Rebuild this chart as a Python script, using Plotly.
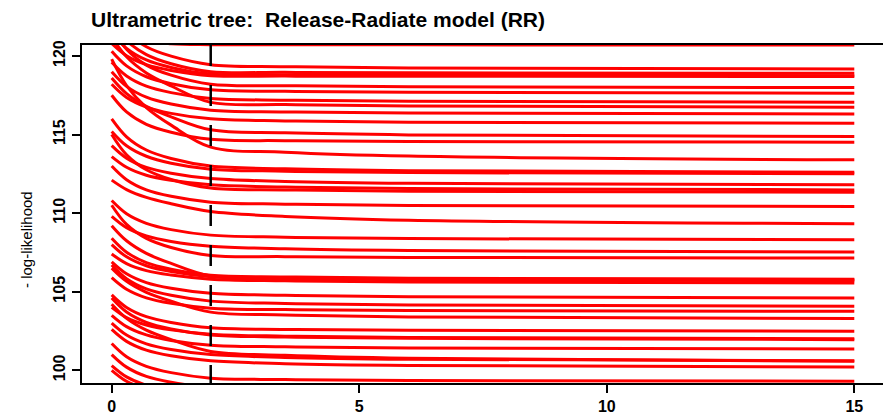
import plotly.graph_objects as go

# x positions (branch-length scaling parameter) at which each curve is sampled
x_grid = [0, 0.3, 0.7, 1.2, 2, 3.5, 6, 15]

# - log-likelihood curves, one list per simulated data set
nll_01 = [122.5, 121.6, 121.0, 120.78, 120.72, 120.71, 120.71, 120.70]
nll_02 = [122.8, 121.53, 120.59, 119.99, 119.45, 119.32, 119.24, 119.17]
nll_03 = [122.2, 120.98, 120.09, 119.51, 119.0, 118.96, 118.93, 118.9]
nll_04 = [121.5, 120.49, 119.75, 119.27, 118.85, 118.81, 118.78, 118.75]
nll_05 = [120.8, 120.02, 119.45, 119.08, 118.75, 118.72, 118.71, 118.69]
nll_06 = [121.8, 120.43, 119.42, 118.78, 118.2, 118.11, 118.04, 117.99]
nll_07 = [120.3, 119.37, 118.68, 118.24, 117.85, 117.75, 117.69, 117.63]
nll_08 = [119.6, 118.73, 118.08, 117.67, 117.3, 117.19, 117.12, 117.06]
nll_09 = [121.2, 119.95, 118.92, 118.09, 117.05, 116.91, 116.82, 116.74]
nll_10 = [119.0, 118.07, 117.38, 116.94, 116.55, 116.44, 116.37, 116.31]
nll_11 = [118.2, 117.36, 116.75, 116.35, 116.0, 115.87, 115.79, 115.72]
nll_12 = [118.6, 117.61, 116.79, 116.13, 115.3, 115.11, 114.98, 114.87]
nll_13 = [117.5, 116.44, 115.65, 115.15, 114.7, 114.61, 114.56, 114.51]
nll_14 = [119.8, 118.12, 116.72, 115.6, 114.2, 113.88, 113.63, 113.39]
nll_15 = [116.0, 114.86, 114.02, 113.48, 113.0, 112.82, 112.7, 112.6]
nll_16 = [115.2, 114.29, 113.62, 113.18, 112.8, 112.67, 112.58, 112.5]
nll_17 = [114.3, 113.5, 112.91, 112.54, 112.2, 112.02, 111.9, 111.8]
nll_18 = [113.6, 112.92, 112.41, 112.09, 111.8, 111.66, 111.56, 111.48]
nll_19 = [115.0, 113.71, 112.76, 112.14, 111.6, 111.48, 111.4, 111.33]
nll_20 = [112.1, 111.5, 111.0, 110.6, 110.1, 109.79, 109.55, 109.32]
nll_21 = [113.0, 112.13, 111.48, 111.07, 110.7, 110.57, 110.49, 110.42]
nll_22 = [110.8, 109.96, 109.35, 108.95, 108.6, 108.47, 108.38, 108.3]
nll_23 = [109.8, 109.08, 108.55, 108.2, 107.9, 107.73, 107.62, 107.52]
nll_24 = [110.5, 109.28, 108.39, 107.81, 107.3, 107.23, 107.18, 107.14]
nll_25 = [108.4, 107.51, 106.85, 106.43, 106.05, 105.94, 105.86, 105.8]
nll_26 = [108.0, 107.22, 106.65, 106.28, 105.95, 105.84, 105.76, 105.7]
nll_27 = [107.4, 106.79, 106.34, 106.06, 105.8, 105.69, 105.61, 105.55]
nll_28 = [109.2, 108.24, 107.44, 106.8, 106.0, 105.89, 105.82, 105.76]
nll_29 = [106.9, 106.14, 105.58, 105.22, 104.9, 104.77, 104.68, 104.6]
nll_30 = [106.7, 105.83, 105.18, 104.77, 104.4, 104.25, 104.15, 104.07]
nll_31 = [105.9, 105.16, 104.61, 104.26, 103.95, 103.86, 103.8, 103.75]
nll_32 = [106.5, 105.66, 104.96, 104.4, 103.7, 103.52, 103.39, 103.29]
nll_33 = [104.8, 104.0, 103.41, 103.04, 102.7, 102.6, 102.54, 102.48]
nll_34 = [104.6, 103.71, 103.05, 102.63, 102.25, 102.12, 102.03, 101.95]
nll_35 = [103.5, 102.78, 102.25, 101.9, 101.6, 101.49, 101.42, 101.36]
nll_36 = [104.2, 103.3, 102.55, 101.95, 101.2, 100.95, 100.76, 100.57]
nll_37 = [102.6, 101.84, 101.28, 100.92, 100.6, 100.42, 100.31, 100.21]
nll_38 = [101.7, 100.86, 100.25, 99.85, 99.5, 99.41, 99.35, 99.3]
nll_39 = [101.0, 100.2, 99.61, 99.24, 98.9, 98.77, 98.68, 98.6]
nll_40 = [100.3, 99.58, 99.05, 98.74, 98.4, 98.27, 98.18, 98.1]
nll_41 = [103.0, 102.24, 101.68, 101.32, 101.0, 100.82, 100.7, 100.6]
nll_42 = [104.0, 103.35, 102.88, 102.57, 102.3, 102.17, 102.08, 102.0]
nll_43 = [100.0, 99.3, 98.8, 98.4, 98.0, 97.8, 97.7, 97.6]

curves = [nll_01, nll_02, nll_03, nll_04, nll_05, nll_06, nll_07, nll_08, nll_09,
          nll_10, nll_11, nll_12, nll_13, nll_14, nll_15, nll_16, nll_17, nll_18,
          nll_19, nll_20, nll_21, nll_22, nll_23, nll_24, nll_25, nll_26, nll_27,
          nll_28, nll_29, nll_30, nll_31, nll_32, nll_33, nll_34, nll_35, nll_36,
          nll_37, nll_38, nll_39, nll_40, nll_41, nll_42, nll_43]

x_ticks = [0, 5, 10, 15]
y_ticks = [100, 105, 110, 115, 120]
cutoff_x = 2

title_text = "Ultrametric tree:  Release-Radiate model (RR)"
y_label = "- log-likelihood"

# the page body adds an 8px offset, so the figure is sized/placed to compensate
OFF = 8
W, H = 891 - OFF, 415 - OFF
L, R, T, B = 82 - OFF, 891 - 884, 45 - OFF, 415 - 383
plot_w = W - L - R
plot_h = H - T - B

fig = go.Figure()
for ys in curves:
    fig.add_trace(go.Scatter(
        x=x_grid, y=ys, mode="lines",
        line=dict(color="#ff0000", width=3, shape="spline", smoothing=1.0),
        hoverinfo="skip", showlegend=False))

fig.add_shape(type="line", xref="x", yref="paper", x0=cutoff_x, x1=cutoff_x,
              y0=1, y1=0, line=dict(color="black", width=2.5, dash="21px,19px"),
              layer="above")

axis_font = dict(family="Liberation Sans, Arial, sans-serif", size=16, color="black",
                 weight="bold")

fig.update_layout(
    width=W, height=H,
    margin=dict(l=L, r=R, t=T, b=B),
    paper_bgcolor="white", plot_bgcolor="white",
    showlegend=False,
    xaxis=dict(range=[-0.6, 15.6], tickvals=x_ticks, ticks="outside", ticklen=8,
               tickwidth=2, tickcolor="black", showgrid=False, zeroline=False,
               showline=True, linecolor="black", linewidth=2, mirror=True,
               tickfont=axis_font, ticklabelstandoff=0, automargin=False),
    yaxis=dict(range=[99.19, 120.70], tickvals=y_ticks, ticks="outside", ticklen=8,
               tickwidth=2, tickcolor="black", showgrid=False, zeroline=False,
               showline=True, linecolor="black", linewidth=2, mirror=True,
               tickangle=-90, tickfont=axis_font, ticklabelstandoff=1,
               automargin=False),
    annotations=[
        dict(text="<b>" + title_text + "</b>", xref="paper", yref="paper",
             x=(89 - 82) / plot_w, y=1 + (45 - 20) / plot_h, xanchor="left",
             yanchor="middle", showarrow=False,
             font=dict(family="Liberation Sans, Arial, sans-serif", size=21, color="black")),
        dict(text=y_label, xref="paper", yref="paper",
             x=(27 - 82) / plot_w, y=(383 - 240) / plot_h, xanchor="center",
             yanchor="middle", textangle=-90, showarrow=False,
             font=dict(family="Liberation Sans, Arial, sans-serif", size=15, color="black")),
    ],
)

fig.write_html("out.html")
